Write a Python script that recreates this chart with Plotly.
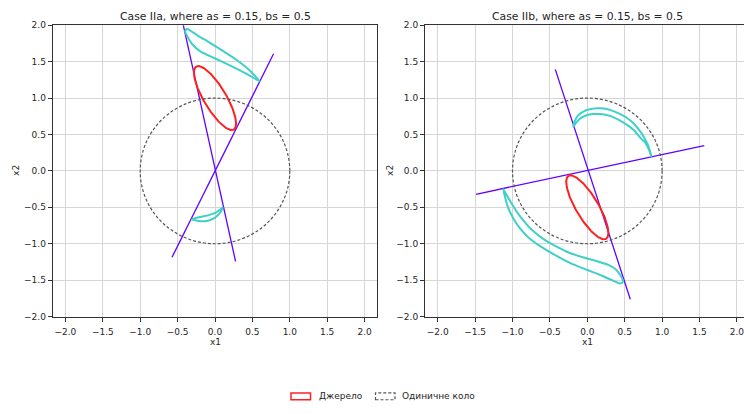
import numpy as np
import plotly.graph_objects as go

W, H = 744, 414

TITLES = ["Case IIa, where as = 0.15, bs = 0.5", "Case IIb, where as = 0.15, bs = 0.5"]
LEGEND_LABELS = ["Джерело", "Одиничне коло"]
TICK_VALS = [-2.0, -1.5, -1.0, -0.5, 0.0, 0.5, 1.0, 1.5, 2.0]
TICK_TEXT = ["\u22122.0", "\u22121.5", "\u22121.0", "\u22120.5", "0.0", "0.5", "1.0", "1.5", "2.0"]

# source ellipse parameters (semi-axes from the titles, orientation / centres)
AS, BS = 0.15, 0.5
ELLIPSE_ANGLE_DEG = 120.0
SOURCE_CENTERS = [(0.0, 1.0), (0.0, -0.5)]
UNIT_R = 1.0

# tangent lines (endpoints)
LINES_A = [((-0.424, 2.0), (0.275, -1.243)), ((0.783, 1.607), (-0.575, -1.186))]
LINES_B = [((-0.428, 1.394), (0.575, -1.761)), ((-1.488, -0.321), (1.564, 0.348))]

# image curves, case IIa
IIA_UPPER_X = [-0.374, -0.30, -0.241, -0.063, 0.115, 0.294, 0.472, 0.597,
               0.428, 0.205, -0.019, -0.197, -0.307, -0.374, -0.400, -0.374]
IIA_UPPER_Y = [1.950, 1.905, 1.865, 1.755, 1.640, 1.519, 1.372, 1.230,
               1.330, 1.446, 1.553, 1.641, 1.742, 1.853, 1.915, 1.950]
IIA_LOWER_X = [-0.307, -0.197, -0.086, 0.004, 0.071, 0.102,
               0.080, 0.035, -0.040, -0.130, -0.219, -0.307]
IIA_LOWER_Y = [-0.664, -0.633, -0.607, -0.575, -0.531, -0.500,
               -0.553, -0.611, -0.664, -0.690, -0.687, -0.664]

# image curves, case IIb
IIB_UPPER_X = [-0.187, -0.170, -0.120, -0.053, 0.036, 0.125, 0.220, 0.303, 0.420, 0.527,
               0.620, 0.705, 0.770, 0.816, 0.845, 0.855,
               0.825, 0.780, 0.705, 0.620, 0.527, 0.420, 0.303, 0.180, 0.080, -0.020,
               -0.098, -0.150, -0.187]
IIB_UPPER_Y = [0.606, 0.680, 0.765, 0.815, 0.845, 0.860, 0.858, 0.838, 0.790, 0.730,
               0.650, 0.545, 0.440, 0.340, 0.250, 0.200,
               0.290, 0.380, 0.460, 0.560, 0.635, 0.700, 0.755, 0.780, 0.780, 0.760,
               0.717, 0.660, 0.606]
IIB_LOWER_X = [-1.123, -1.100, -1.060, -0.990, -0.900, -0.780, -0.620, -0.440, -0.220,
               0.000, 0.200, 0.350, 0.430, 0.470, 0.475,
               0.440, 0.380, 0.280, 0.130, -0.050, -0.250, -0.430, -0.580, -0.720,
               -0.840, -0.950, -1.040, -1.090, -1.123]
IIB_LOWER_Y = [-0.250, -0.360, -0.500, -0.650, -0.790, -0.920, -1.040, -1.150, -1.270,
               -1.360, -1.440, -1.510, -1.545, -1.530, -1.500,
               -1.430, -1.350, -1.290, -1.240, -1.190, -1.120, -1.030, -0.940, -0.830,
               -0.700, -0.550, -0.400, -0.310, -0.250]

CYAN = "#3fd0c8"
RED = "#ff1f1f"
VIOLET = "#6200ff"
CIRCLE_COL = "#555555"
GRID = "#d6d6d6"
TXT = "#262626"
FONT = "DejaVu Sans"


def px_x(p):
    return p / W


def px_y(p):
    return 1 - p / H


def ellipse(cx, cy):
    t = np.linspace(0, 2 * np.pi, 241)
    th = np.deg2rad(ELLIPSE_ANGLE_DEG)
    x = cx + BS * np.cos(t) * np.cos(th) - AS * np.sin(t) * np.sin(th)
    y = cy + BS * np.cos(t) * np.sin(th) + AS * np.sin(t) * np.cos(th)
    return x, y


fig = go.Figure()

panels = [
    ("x", "y", LINES_A, [(IIA_UPPER_X, IIA_UPPER_Y), (IIA_LOWER_X, IIA_LOWER_Y)], SOURCE_CENTERS[0]),
    ("x2", "y2", LINES_B, [(IIB_UPPER_X, IIB_UPPER_Y), (IIB_LOWER_X, IIB_LOWER_Y)], SOURCE_CENTERS[1]),
]

for xa, ya, lines, curves, center in panels:
    for (p0, p1) in lines:
        fig.add_trace(go.Scatter(x=[p0[0], p1[0]], y=[p0[1], p1[1]], mode="lines",
                                 line=dict(color=VIOLET, width=1.3), xaxis=xa, yaxis=ya,
                                 showlegend=False, hoverinfo="skip"))
    for cxs, cys in curves:
        fig.add_trace(go.Scatter(x=cxs, y=cys, mode="lines",
                                 line=dict(color=CYAN, width=2, shape="spline", smoothing=0.5),
                                 xaxis=xa, yaxis=ya, showlegend=False, hoverinfo="skip"))
    ex, ey = ellipse(*center)
    fig.add_trace(go.Scatter(x=ex, y=ey, mode="lines", line=dict(color=RED, width=2),
                             xaxis=xa, yaxis=ya, showlegend=False, hoverinfo="skip"))
    fig.add_shape(type="circle", xref=xa, yref=ya, x0=-UNIT_R, y0=-UNIT_R, x1=UNIT_R, y1=UNIT_R,
                  line=dict(color=CIRCLE_COL, width=1.2, dash="3px,2px"), layer="above")

axis_common = dict(tickvals=TICK_VALS, ticktext=TICK_TEXT, showgrid=True, gridcolor=GRID, gridwidth=1,
                   zeroline=False, showline=True, linecolor="#333333", linewidth=1,
                   ticks="outside", ticklen=4, tickcolor="#333333", ticklabeloverflow="allow",
                   tickfont=dict(family=FONT, size=9, color=TXT))

ytop, ybot = 20.7, 319.3
L1, R1 = 52.7, 377.3
L2 = 425.0
scale = (R1 - L1) / 4.34
x0_2 = L2 + 2.17 * scale

fig.update_layout(
    width=W, height=H, margin=dict(l=0, r=0, t=0, b=0),
    paper_bgcolor="white", plot_bgcolor="white", showlegend=False,
    xaxis=dict(domain=[px_x(L1), px_x(R1)], range=[-2.17, 2.17], anchor="y", mirror=True,
               ticklabelstandoff=3, **axis_common),
    yaxis=dict(domain=[px_y(ybot), px_y(ytop)], range=[-2, 2], anchor="x", mirror=True, **axis_common),
    xaxis2=dict(domain=[px_x(L2), 1.0], range=[-2.17, (W - x0_2) / scale], anchor="y2", mirror=True,
                ticklabelstandoff=3, **axis_common),
    yaxis2=dict(domain=[px_y(ybot), px_y(ytop)], range=[-2, 2], anchor="x2", mirror=False, **axis_common),
)

cx1 = (L1 + R1) / 2
cx2 = x0_2
ann = [
    dict(text=TITLES[0], x=px_x(cx1), y=px_y(12), font=dict(size=10.8)),
    dict(text=TITLES[1], x=px_x(cx2), y=px_y(12), font=dict(size=10.8)),
    dict(text="x1", x=px_x(cx1), y=px_y(345)),
    dict(text="x1", x=px_x(cx2), y=px_y(345)),
    dict(text="x2", x=px_x(16), y=px_y(170), textangle=-90),
    dict(text="x2", x=px_x(390), y=px_y(170), textangle=-90),
    dict(text=LEGEND_LABELS[0], x=px_x(316.5), y=px_y(401), xanchor="left"),
    dict(text=LEGEND_LABELS[1], x=px_x(400), y=px_y(401), xanchor="left"),
]
for a in ann:
    a.setdefault("xanchor", "center")
    size = a.get("font", {}).get("size", 9)
    a["font"] = dict(family=FONT, color=TXT, size=size)
    fig.add_annotation(xref="paper", yref="paper", yanchor="middle", showarrow=False, **a)

# legend handles
fig.add_shape(type="rect", xref="paper", yref="paper", x0=px_x(291), x1=px_x(310.5),
              y0=px_y(404.5), y1=px_y(397.5), line=dict(color=RED, width=1.5))
fig.add_shape(type="rect", xref="paper", yref="paper", x0=px_x(375.5), x1=px_x(395),
              y0=px_y(404.5), y1=px_y(397.5), line=dict(color=CIRCLE_COL, width=1.2, dash="3px,2px"))

fig.write_html("out.html")
